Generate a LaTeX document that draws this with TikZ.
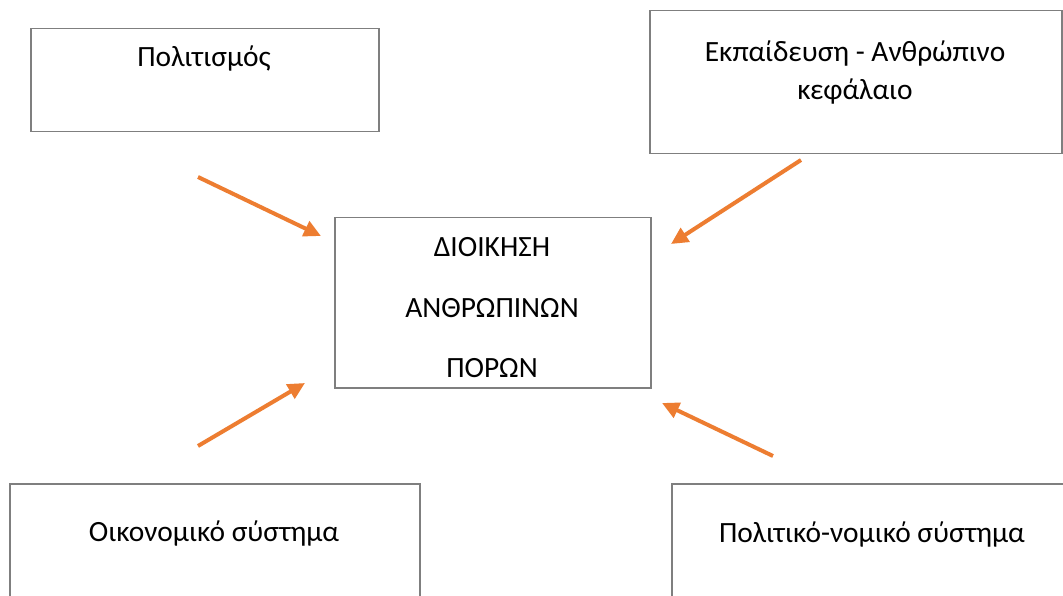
\documentclass[tikz,border=0pt]{standalone}
\usepackage{fontspec}
\setmainfont{Carlito}
\usetikzlibrary{arrows.meta}
\definecolor{boxgray}{HTML}{7F7F7F}
\definecolor{arroworange}{HTML}{ED7D31}
\tikzset{
  box/.style={draw=boxgray, line width=1.5pt, inner sep=0pt, anchor=north west},
  lbl/.style={anchor=base, inner sep=0pt, font=\fontsize{29.4}{35}\selectfont},
  infl/.style={draw=arroworange, line width=4pt, -{Triangle[length=17pt,width=16pt]}}
}
\begin{document}
\begin{tikzpicture}[x=1pt,y=-1pt]
\useasboundingbox (0,0) rectangle (1063,596);
\clip (0,0) rectangle (1063,596);
\fill[white] (0,0) rectangle (1063,596);
% boxes
\node[box, minimum width=348pt, minimum height=103pt] (cult) at (30,28) {};
\node[box, minimum width=412pt, minimum height=143pt] (edu) at (649,10) {};
\node[box, minimum width=316pt, minimum height=170pt] (hrm) at (334,217) {};
\node[box, minimum width=410pt, minimum height=140pt] (econ) at (9,483) {};
\node[box, minimum width=402pt, minimum height=140pt] (pol) at (671,483) {};
% texts
\node[lbl] (tcult) at (204,67) {Πολιτισμός};
\node[lbl] (tedu1) at (855,62) {Εκπαίδευση - Ανθρώπινο};
\node[lbl] (tedu2) at (855,100) {κεφάλαιο};
\node[lbl] (thrm1) at (492,257) {ΔΙΟΙΚΗΣΗ};
\node[lbl] (thrm2) at (492,317) {ΑΝΘΡΩΠΙΝΩΝ};
\node[lbl] (thrm3) at (492,377) {ΠΟΡΩΝ};
\node[lbl] (tecon) at (214,541) {Οικονομικό σύστημα};
\node[lbl] (tpol) at (872,542) {Πολιτικό-νομικό σύστημα};
% arrow ends
\coordinate (a1s) at (198,177);
\coordinate (a1e) at (321,236);
\coordinate (a2s) at (801,160);
\coordinate (a2e) at (671,244);
\coordinate (a3s) at (198,446);
\coordinate (a3e) at (305,383);
\coordinate (a4s) at (773,456);
\coordinate (a4e) at (662,403);
\draw[infl] (a1s) -- (a1e);
\draw[infl] (a2s) -- (a2e);
\draw[infl] (a3s) -- (a3e);
\draw[infl] (a4s) -- (a4e);
\end{tikzpicture}
\end{document}
